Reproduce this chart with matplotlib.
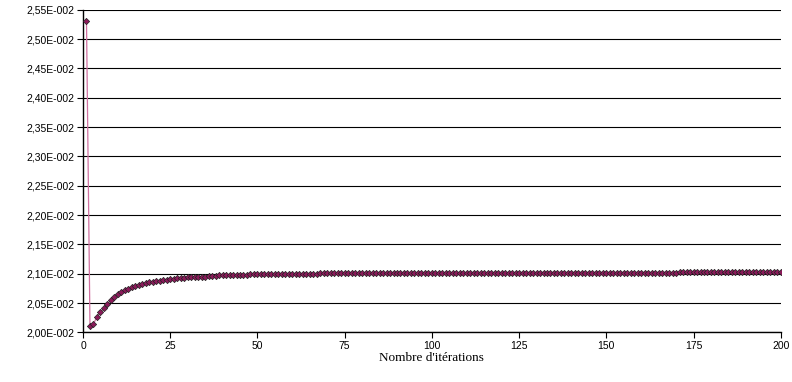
import matplotlib
matplotlib.use("Agg")
import matplotlib.pyplot as plt
import numpy as np
from matplotlib.ticker import FuncFormatter, MultipleLocator

# values (iterations 1..200)
early = [
    0.02531, 0.02010, 0.02014, 0.02027, 0.02034, 0.02041, 0.02048, 0.02055, 0.02060, 0.02065,
    0.02068, 0.02072, 0.02074, 0.02077, 0.02079, 0.02081, 0.02082, 0.02084, 0.02085, 0.02086,
    0.02087, 0.02088, 0.02089, 0.02090, 0.02091, 0.02091, 0.02092, 0.02093, 0.02093, 0.02094,
    0.02094, 0.02094, 0.02095, 0.02095, 0.02095, 0.02096, 0.02096, 0.02096, 0.02097, 0.02097,
    0.02097, 0.02097, 0.02098, 0.02098, 0.02098, 0.02098, 0.02098, 0.02099, 0.02099, 0.02099,
]
middle = [
    0.02099, 0.02099, 0.02099, 0.02099, 0.02099, 0.02100, 0.02100, 0.02100, 0.02100, 0.02100,
    0.02100, 0.02100, 0.02100, 0.02100, 0.02100, 0.02100, 0.02100, 0.02101, 0.02101, 0.02101,
    0.02101, 0.02101, 0.02101, 0.02101, 0.02101,
]
late = [0.02101] * 20 + [0.021015] * 30
plateau = [0.02102] * 45 + [0.021025] * 30

residual = early + middle + late + plateau
iterations = np.arange(1, len(residual) + 1)

fig = plt.figure(figsize=(7.92, 3.82), dpi=100)
ax = fig.add_axes([0.1048, 0.130, 0.881, 0.8446])

ax.plot(iterations, residual, color="#d070a0", lw=0.9,
        marker="D", markersize=3.2, markerfacecolor="#8b1a5a",
        markeredgecolor="#222222", markeredgewidth=0.5, zorder=3)

ax.set_xlim(0, 200)
ax.set_ylim(0.0200, 0.0255)
ax.xaxis.set_major_locator(MultipleLocator(25))
ax.yaxis.set_major_locator(MultipleLocator(0.0005))
ax.yaxis.set_major_formatter(FuncFormatter(
    lambda v, p: f"{v * 100:.2f}".replace(".", ",") + "E-002"))

ax.grid(axis="y", color="black", lw=0.8)
ax.set_axisbelow(True)
for s in ["top", "right"]:
    ax.spines[s].set_visible(False)
for s in ["left", "bottom"]:
    ax.spines[s].set_linewidth(1.0)

ax.tick_params(direction="out", length=4, width=0.8, labelsize=7.5,
               labelfontfamily="Liberation Sans", pad=2)
ax.set_xlabel("Nombre d'itérations", fontfamily="Liberation Serif",
              fontsize=9.5, labelpad=1)

fig.savefig("out.png", dpi=100)
